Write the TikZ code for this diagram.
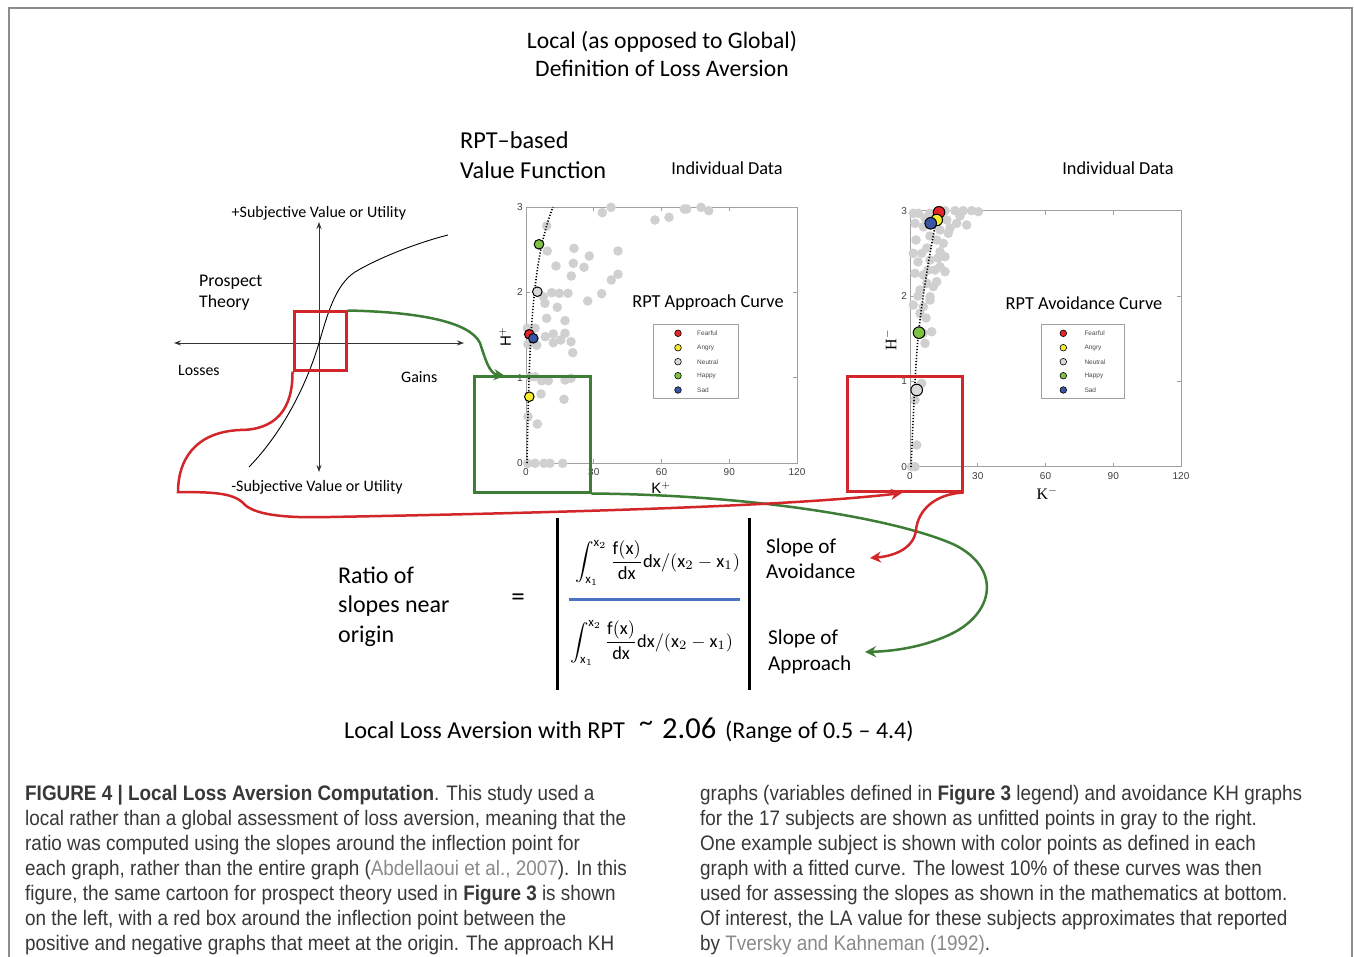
\documentclass[tikz,border=0pt]{standalone}
\usepackage{fontspec}
\setmainfont{Carlito}
\newfontfamily\capfont[FakeStretch=0.90]{Liberation Sans}
\newfontfamily\helv{Liberation Sans}
\newfontfamily\tms{Liberation Serif}
\usetikzlibrary{arrows.meta}
\definecolor{rd}{HTML}{D3262B}
\definecolor{gn}{HTML}{3D7D35}
\definecolor{bl}{HTML}{4A72C0}
\definecolor{ptgray}{HTML}{D0D0D0}
\definecolor{capcol}{HTML}{383838}
\definecolor{citecol}{HTML}{8A8A8A}
\definecolor{axgray}{HTML}{A0A0A0}
\definecolor{framecol}{HTML}{8C8C8C}
\definecolor{cred}{HTML}{E8262A}
\definecolor{cyel}{HTML}{F5EB2F}
\definecolor{cneu}{HTML}{DADADA}
\definecolor{cgrn}{HTML}{7DC242}
\definecolor{cblu}{HTML}{3A55A4}
\newcommand\fsz[2]{\fontsize{#1}{#2}\selectfont}
\tikzset{
  lbl/.style={inner sep=0pt},
  ticklbl/.style={inner sep=0pt, font=\helv\fsz{10}{11}, black!75},
  legtxt/.style={inner sep=0pt, anchor=west, font=\helv\fsz{6.5}{7}, black!70},
  legdot/.style={draw=black, line width=0.6pt},
  bigdot/.style={draw=black, line width=1pt},
  hl/.style={line width=3pt, inner sep=0pt},
  conn/.style={line width=2.5pt, -{Stealth[length=11pt,width=11pt]}},
  axarrow/.style={line width=0.9pt, black!80, {Stealth[length=7pt,width=5pt]}-{Stealth[length=7pt,width=5pt]}},
  fitcurve/.style={line width=1.6pt, dash pattern=on 1.2pt off 1.8pt},
  capline/.style={anchor=base west, inner sep=0pt, font=\capfont\fsz{21}{25}, text=capcol},
}
\begin{document}
\begin{tikzpicture}[x=1pt,y=-1pt]
\useasboundingbox (0,0) rectangle (1354,957);
\fill[white] (0,0) rectangle (1354,957);
% frame
\draw[framecol, line width=1.5pt] (9,957) -- (9,8) -- (1352,8) -- (1352,957);

% titles
\node[lbl, align=center, font=\fsz{23.6}{28}] (title) at (662,54) {Local (as opposed to Global)\\Definition of Loss Aversion};
\node[lbl, align=left, anchor=west, font=\fsz{24.3}{30}] (rptvf) at (460,155) {RPT–based\\Value Function};
\node[lbl, font=\fsz{18.3}{20}] (ind1) at (727,168) {Individual Data};
\node[lbl, font=\fsz{18.3}{20}] (ind2) at (1118,168) {Individual Data};

% prospect theory cartoon
\coordinate (hL) at (174,343);
\coordinate (hR) at (464,343);
\coordinate (vT) at (319,222);
\coordinate (vB) at (319,472);
\draw[axarrow] (hL) -- (hR);
\draw[axarrow] (vT) -- (vB);
\draw[line width=0.9pt] (249,467) .. controls (280,435) and (305,390) .. (319,343)
  .. controls (327,316) and (335,285) .. (355,272) .. controls (380,257) and (420,242) .. (448,235);
\node[lbl, font=\fsz{16}{18}] (pv) at (319,213) {+Subjective Value or Utility};
\node[lbl, font=\fsz{16}{18}] (nv) at (317,487) {-Subjective Value or Utility};
\node[lbl, align=left, anchor=west, font=\fsz{17.8}{21}] (ptl) at (199,292.5) {Prospect\\Theory};
\node[lbl, anchor=west, font=\fsz{15.8}{18}] (loss) at (178,370) {Losses};
\node[lbl, anchor=west, font=\fsz{16}{18}] (gain) at (401,377) {Gains};

% ---------- approach plot ----------
\draw[axgray, line width=0.8pt] (526,207) rectangle (797,463);
\foreach \xx in {593.75,661.5,729.25} {\draw[axgray, line width=0.6pt] (\xx,463) -- (\xx,459); \draw[axgray, line width=0.6pt] (\xx,207) -- (\xx,211);}
\foreach \yy in {292.3,377.7} {\draw[axgray, line width=0.6pt] (526,\yy) -- (530,\yy); \draw[axgray, line width=0.6pt] (797,\yy) -- (793,\yy);}
\foreach \yy/\t in {207/3,292.3/2,377.7/1,463/0} {\node[ticklbl, anchor=east] at (523,\yy) {\t};}
\foreach \xx/\t in {526/0,593.75/30,661.5/60,729.25/90,797/120} {\node[ticklbl] at (\xx,472) {\t};}
\node[lbl, font=\helv\fsz{15}{17}] (kp) at (661,488) {K$^{+}$};
\node[lbl, rotate=90, font=\helv\fsz{15}{17}] (hp) at (505,337) {H$^{+}$};
\foreach \p in {(602.3,212.7),(611,207.3),(655,220),(669,217.3),(684.3,209),(686.7,209),(701,207.3),(708.7,210.7),
  (546.7,226),(547.3,251),(574,248.3),(589.3,256),(618,251),(556,266),(573.3,263.3),(584,267.3),(571.3,276),
  (611.3,280),(618,274.3),(601.7,293.7),(587.7,301),(551.7,292.7),(559.3,293.3),(568,293.3),(543.3,296.7),
  (545,303.3),(557.3,307.3),(546.7,318.3),(565,320.7),(527.3,328.3),(535,328.3),(545.3,336.7),(553.3,334),
  (565,333.3),(571,341.7),(572.7,352.7),(553.3,342.7),(560.7,340),(528,344.3),(536.7,345.3),(530,376.7),
  (535,376.7),(541.7,380.7),(548.3,380.7),(565,380),(571,378.3),(541,394),(564,399.3),(528,416.7),(537.3,424),
  (527.7,463.3),(535,463.3),(544,463.3),(550,463.3),(562.7,463.3)}
  {\fill[ptgray] \p circle (4.8pt);}
\draw[fitcurve] (527,463) .. controls (528,410) and (529,360) .. (532,320) .. controls (535,280) and (540,240) .. (553,207);
\fill[cgrn, bigdot] (539,244.3) circle (4.8pt);
\fill[cneu, bigdot] (537.3,291.7) circle (4.8pt);
\fill[cred, bigdot] (529.3,334.3) circle (4.8pt);
\fill[cblu, bigdot] (533.3,338.3) circle (4.8pt);
\fill[cyel, bigdot] (529.3,396.7) circle (4.8pt);
\node[lbl, font=\fsz{18.3}{20}] (apt) at (708,303) {RPT Approach Curve};
\draw[axgray, line width=0.8pt] (653,324) rectangle (738,398);
\foreach \yy/\c/\t in {333.3/cred/Fearful,347.7/cyel/Angry,361.7/cneu/Neutral,375.7/cgrn/Happy,390/cblu/Sad}
  {\fill[\c, legdot] (678,\yy) circle (3.3pt); \node[legtxt] at (697,\yy) {\t};}

% ---------- avoidance plot ----------
\draw[axgray, line width=0.8pt] (910,210.7) rectangle (1181,466.7);
\foreach \xx in {977.75,1045.5,1113.25} {\draw[axgray, line width=0.6pt] (\xx,466.7) -- (\xx,462.7); \draw[axgray, line width=0.6pt] (\xx,210.7) -- (\xx,214.7);}
\foreach \yy in {296,381.3} {\draw[axgray, line width=0.6pt] (910,\yy) -- (914,\yy); \draw[axgray, line width=0.6pt] (1181,\yy) -- (1177,\yy);}
\foreach \yy/\t in {210.7/3,296/2,381.3/1,466.7/0} {\node[ticklbl, anchor=east] at (907,\yy) {\t};}
\foreach \xx/\t in {910/0,977.75/30,1045.5/60,1113.25/90,1181/120} {\node[ticklbl] at (\xx,476) {\t};}
\node[lbl, font=\tms\fsz{16}{18}] (km) at (1047,493) {K$^{-}$};
\node[lbl, rotate=90, font=\tms\fsz{16}{18}] (hm) at (890,340) {H$^{-}$};
\foreach \p in {(913.3,213.3),(918.3,213.3),(930,213.3),(945,210.7),(955,210.7),(963.3,210.7),(971.7,210.7),(978.3,211.7),
  (946.7,220),(956.7,223.3),(966.7,225),(915,223.3),(923.3,226.7),(940,230),(948.3,233.3),(936.7,240),(943.3,243.3),
  (913.3,253.3),(921.7,253.3),(940,251.7),(945,256.7),(930,260),(940,266.7),(915,273.3),(923.3,275),(935,270),
  (945,271.7),(926.7,283.3),(936.7,281.7),(920,290),(930,296.7),(933.3,286.7),(913.3,305),(923.3,306.7),
  (920,313.3),(930,300),(923.3,333.3),(931.7,331.7),(925,343.3),(921.7,383.3),(915,400),(916.7,445),
  (911.7,466.7),(915,466.7),(925,218),(950,228),(960,216),(927,248),(918,262),(928,270),(938,258),(918,296),(926,318),(916,240),(930,236)}
  {\fill[ptgray] \p circle (4.8pt);}
\draw[fitcurve] (911,467) .. controls (914,400) and (916,350) .. (920,320) .. controls (925,280) and (932,240) .. (938,212);
\fill[cred, bigdot] (939,212.3) circle (5.8pt);
\fill[cyel, bigdot] (936.7,220) circle (5.8pt);
\fill[cblu, bigdot] (930.7,223.3) circle (5.8pt);
\fill[cgrn, bigdot] (919,332.7) circle (5.8pt);
\fill[cneu, bigdot] (916.7,390) circle (5.8pt);
\node[lbl, font=\fsz{18.3}{20}] (avt) at (1084,303) {RPT Avoidance Curve};
\draw[axgray, line width=0.8pt] (1041,324) rectangle (1124,398);
\foreach \yy/\c/\t in {333.3/cred/Fearful,347.7/cyel/Angry,361.7/cneu/Neutral,375.7/cgrn/Happy,390/cblu/Sad}
  {\fill[\c, legdot] (1063.3,\yy) circle (3.3pt); \node[legtxt] at (1084.3,\yy) {\t};}

% ---------- highlight boxes ----------
\node[hl, draw=rd, minimum width=52, minimum height=58] (ptbox) at (320,341) {};
\node[hl, draw=gn, minimum width=116, minimum height=116] (apbox) at (532,434) {};
\node[hl, draw=rd, minimum width=115, minimum height=115] (avbox) at (904.5,433.5) {};

% ---------- connectors ----------
\draw[conn, gn] (ptbox.north east) .. controls (420,312) and (470,322) .. (480,343)
  .. controls (485,358) and (489,374) .. (505,376);
\draw[conn, gn] (apbox.south east) .. controls (760,495) and (900,520) .. (955,545)
  .. controls (1000,568) and (995,610) .. (955,632) .. controls (930,645) and (900,651) .. (865,652);
\draw[conn, rd] (ptbox.south west) .. controls (293,410) and (275,430) .. (240,430)
  .. controls (195,432) and (178,460) .. (178,492) .. controls (215,492) and (235,493) .. (245,505)
  .. controls (258,516) and (290,518) .. (330,517) .. controls (600,512) and (800,505) .. (902,493);
\draw[conn, rd] (avbox.south east) .. controls (935,494) and (918,510) .. (916,530)
  .. controls (914,548) and (895,556) .. (870,558);

% ---------- formula ----------
\coordinate (lbT) at (557,518); \coordinate (lbB) at (557,690);
\coordinate (rbT) at (749,518); \coordinate (rbB) at (749,690);
\coordinate (blL) at (569,599); \coordinate (blR) at (740,599);
\draw[line width=3pt] (lbT) -- (lbB);
\draw[line width=3pt] (rbT) -- (rbB);
\draw[bl, line width=3pt] (blL) -- (blR);
\node[lbl] (num) at (657.5,563) {\resizebox{165pt}{!}{$\displaystyle\int_{\mathrm{x}_1}^{\mathrm{x}_2}\frac{\mathrm{f(x)}}{\mathrm{dx}}\mathrm{dx}/(\mathrm{x}_2-\mathrm{x}_1)$}};
\node[lbl] (den) at (651.5,643) {\resizebox{163pt}{!}{$\displaystyle\int_{\mathrm{x}_1}^{\mathrm{x}_2}\frac{\mathrm{f(x)}}{\mathrm{dx}}\mathrm{dx}/(\mathrm{x}_2-\mathrm{x}_1)$}};
\node[lbl, align=left, anchor=west, font=\fsz{21.2}{25}] (sav) at (766,558.5) {Slope of\\Avoidance};
\node[lbl, align=left, anchor=west, font=\fsz{21.2}{26}] (sap) at (768,652) {Slope of\\Approach};
\node[lbl, align=left, anchor=west, font=\fsz{24}{29.5}] (ratio) at (338,606.5) {Ratio of\\slopes near\\origin};
\node[lbl, font=\fsz{27}{28}] (eq) at (518,600) {=};

% ---------- result line ----------
\node[lbl, anchor=base west, font=\fsz{24.3}{26}] (lla) at (344,738) {Local Loss Aversion with RPT};
\node[lbl, anchor=base west, font=\fsz{28}{30}] (tld) at (639,731) {\string~};
\node[lbl, anchor=base west, font=\fsz{30.5}{32}] (val) at (662,738) {2.06};
\node[lbl, anchor=base west, font=\fsz{23.9}{26}] (rng) at (725,738) {(Range of 0.5 – 4.4)};

% ---------- caption ----------
\node[capline] (c1) at (25,800) {\textbf{FIGURE 4 \textbar\ Local Loss Aversion Computation}. This study used a};
\node[capline] (c2) at (25,825) {local rather than a global assessment of loss aversion, meaning that the};
\node[capline] (c3) at (25,850) {ratio was computed using the slopes around the inflection point for};
\node[capline] (c4) at (25,875) {each graph, rather than the entire graph ({\color{citecol}Abdellaoui et al., 2007}). In this};
\node[capline] (c5) at (25,900) {figure, the same cartoon for prospect theory used in \textbf{Figure 3} is shown};
\node[capline] (c6) at (25,925) {on the left, with a red box around the inflection point between the};
\node[capline] (c7) at (25,950) {positive and negative graphs that meet at the origin. The approach KH};
\node[capline] (d1) at (700,800) {graphs (variables defined in \textbf{Figure 3} legend) and avoidance KH graphs};
\node[capline] (d2) at (700,825) {for the 17 subjects are shown as unfitted points in gray to the right.};
\node[capline] (d3) at (700,850) {One example subject is shown with color points as defined in each};
\node[capline] (d4) at (700,875) {graph with a fitted curve. The lowest 10\% of these curves was then};
\node[capline] (d5) at (700,900) {used for assessing the slopes as shown in the mathematics at bottom.};
\node[capline] (d6) at (700,925) {Of interest, the LA value for these subjects approximates that reported};
\node[capline] (d7) at (700,950) {by {\color{citecol}Tversky and Kahneman (1992)}.};
\end{tikzpicture}
\end{document}
